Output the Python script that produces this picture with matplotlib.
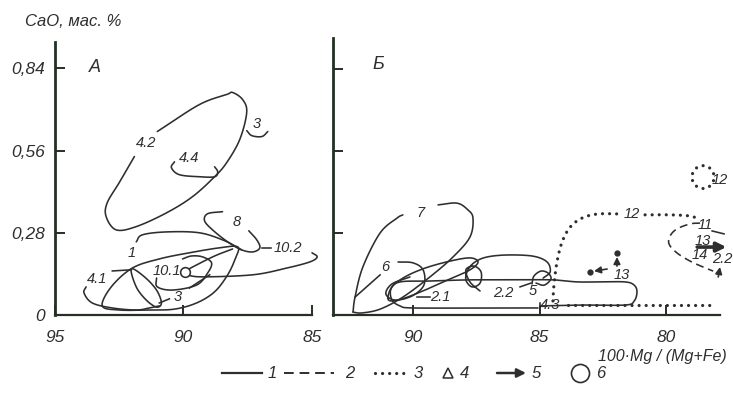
import numpy as np
import matplotlib.pyplot as plt
from matplotlib.patches import Ellipse

plt.rcParams['font.family'] = ['Liberation Sans Narrow', 'Liberation Sans', 'DejaVu Sans']
plt.rcParams['font.style'] = 'italic'

INK = '#2e2e2e'
AXIS = '#233023'
LW = 1.15

# ---- panel A contours (x = 100*Mg/(Mg+Fe), y = CaO, wt.%) ----
a42_x = [91.02, 89.38, 88.32, 88.09, 87.70, 87.54, 87.81, 88.32, 88.79, 89.65, 90.66, 91.84, 92.62, 93.01, 92.97, 92.50, 91.91]
a42_y = [0.625, 0.717, 0.751, 0.758, 0.734, 0.690, 0.598, 0.519, 0.471, 0.403, 0.348, 0.301, 0.290, 0.335, 0.382, 0.451, 0.540]
a3_x = [87.54, 87.34, 86.95, 86.72]
a3_y = [0.628, 0.611, 0.608, 0.625]
a44_x = [90.35, 90.47, 90.16, 89.38, 88.79, 88.67, 88.79]
a44_y = [0.522, 0.502, 0.478, 0.471, 0.471, 0.488, 0.505]
a8_x = [88.48, 89.06, 89.18, 88.87, 88.28, 87.74, 87.30, 87.03, 87.15, 87.46]
a8_y = [0.352, 0.345, 0.321, 0.290, 0.249, 0.222, 0.215, 0.229, 0.256, 0.287]
a1top_x = [91.84, 91.60, 90.66, 89.38, 88.40, 87.74]
a1top_y = [0.249, 0.273, 0.283, 0.280, 0.253, 0.222]
a102u_x = [88.09, 88.79, 89.57, 89.92]
a102u_y = [0.225, 0.201, 0.167, 0.150]
a102l_x = [89.92, 89.26, 87.30, 85.98, 85.08, 84.80, 85.00]
a102l_y = [0.137, 0.130, 0.137, 0.160, 0.181, 0.198, 0.212]
a101_x = [91.05, 91.02, 90.43, 89.49, 89.06, 88.91, 89.26, 89.69, 90.04]
a101_y = [0.126, 0.096, 0.085, 0.102, 0.143, 0.178, 0.198, 0.201, 0.191]
a1_x = [93.16, 92.81, 91.99, 90.94, 89.77, 88.59, 87.89, 87.97, 88.28, 88.79, 89.49, 90.35, 91.33, 92.50]
a1_y = [0.031, 0.096, 0.160, 0.191, 0.212, 0.229, 0.232, 0.195, 0.137, 0.079, 0.041, 0.020, 0.017, 0.017]
a41_x = [93.79, 93.87, 93.55, 92.77, 91.84, 91.33, 90.94]
a41_y = [0.096, 0.075, 0.041, 0.024, 0.017, 0.024, 0.031]
aloop_x = [92.03, 91.84, 91.45, 91.05, 90.86, 91.05, 91.52]
aloop_y = [0.157, 0.096, 0.051, 0.027, 0.041, 0.085, 0.130]
a_circle = (89.96, 0.147)

a_leaders = [([92.77, 92.03], [0.150, 0.154]),
             ([90.94, 90.55], [0.041, 0.055]),
             ([89.77, 88.98], [0.092, 0.137]),
             ([86.95, 86.60], [0.229, 0.229])]
a_labels = [('4.2', 91.45, 0.587), ('3', 87.15, 0.652), ('4.4', 89.77, 0.536),
            ('8', 87.93, 0.318), ('1', 92.03, 0.212), ('4.1', 93.36, 0.123),
            ('10.1', 90.66, 0.150), ('3', 90.23, 0.061)]

# ---- panel Б contours ----
b7l_x = [90.40, 90.63, 91.30, 91.98, 92.29, 92.37]
b7l_y = [0.342, 0.331, 0.280, 0.164, 0.061, 0.010]
b7r_x = [89.01, 88.26, 87.83, 87.63, 87.75, 88.42, 89.33, 90.40, 91.30, 92.02, 92.37]
b7r_y = [0.376, 0.382, 0.359, 0.331, 0.266, 0.198, 0.130, 0.061, 0.020, 0.007, 0.010]
b6_x = [90.59, 90.00, 89.60, 89.57, 90.04, 90.71, 91.07, 90.83, 90.12]
b6_y = [0.181, 0.178, 0.154, 0.102, 0.065, 0.051, 0.072, 0.106, 0.130]
b21_x = [90.99, 90.83, 90.32, 89.53, 88.54, 87.75, 87.43, 87.75, 88.54, 89.53, 90.32, 90.83]
b21_y = [0.058, 0.096, 0.130, 0.160, 0.184, 0.195, 0.181, 0.154, 0.123, 0.085, 0.058, 0.048]
b22_x = [84.86, 84.58, 84.70, 85.26, 86.28, 87.08, 87.55, 87.83, 87.91, 87.67, 87.35, 87.31, 87.59, 87.91, 87.75, 87.35]
b22_y = [0.126, 0.147, 0.181, 0.201, 0.205, 0.198, 0.181, 0.154, 0.120, 0.096, 0.109, 0.147, 0.167, 0.154, 0.113, 0.082]
b5_x = [85.30, 85.22, 84.94, 84.66, 84.55, 84.82, 85.14]
b5_y = [0.106, 0.133, 0.150, 0.143, 0.123, 0.102, 0.109]
b43_x = [84.98, 83.40, 81.62, 81.26, 81.15, 81.26, 81.62, 82.61, 83.52, 84.47, 85.77, 87.75, 89.33, 90.51, 90.87, 90.83, 90.51, 90.00, 87.35, 85.06]
b43_y = [0.031, 0.034, 0.034, 0.048, 0.079, 0.102, 0.113, 0.113, 0.113, 0.120, 0.120, 0.120, 0.116, 0.113, 0.089, 0.051, 0.031, 0.024, 0.024, 0.024]
# dotted contour 12
b12a_x = [84.47, 84.43, 84.31, 84.11, 83.79, 83.32, 82.69, 81.74]
b12a_y = [0.048, 0.102, 0.181, 0.249, 0.300, 0.331, 0.345, 0.345]
b12b_x = [80.83, 79.84, 79.05, 78.74]
b12b_y = [0.342, 0.342, 0.338, 0.328]
b12c_x = [83.87, 78.06]
b12c_y = [0.034, 0.034]
b12_ring = (78.54, 0.471, 0.87, 0.078)
# dashed contour 11
b11_x = [78.66, 79.05, 79.57, 79.84, 79.88, 79.57, 79.05, 78.54, 78.14]
b11_y = [0.314, 0.311, 0.294, 0.270, 0.242, 0.212, 0.184, 0.164, 0.150]
b11d_x = [78.18, 77.71]
b11d_y = [0.287, 0.277]

b_leaders = [([91.30, 92.29], [0.137, 0.061]),
             ([89.84, 89.33], [0.061, 0.061]),
             ([85.77, 85.34], [0.096, 0.109]),
             ([84.98, 84.98], [0.017, 0.041])]
b_points = [(83.00, 0.147), (81.94, 0.212)]
b_arrows = [((82.33, 0.157), (82.85, 0.150)),
            ((81.94, 0.167), (81.94, 0.198)),
            ((77.94, 0.130), (77.87, 0.164))]
b_big_arrow = ((78.77, 0.232), (77.62, 0.232))
b_labels = [('7', 89.72, 0.348), ('6', 91.11, 0.164), ('2.1', 88.93, 0.061),
            ('2.2', 86.44, 0.075), ('5', 85.26, 0.082), ('4.3', 84.58, 0.034),
            ('12', 81.34, 0.345), ('13', 81.74, 0.137), ('12', 77.87, 0.461),
            ('11', 78.46, 0.307), ('13', 78.54, 0.253), ('14', 78.66, 0.205),
            ('2.2', 77.79, 0.191)]


def smooth(xs, ys, closed=False, n=14):
    # Catmull-Rom through the traced points
    p = np.column_stack([xs, ys]).astype(float)
    if closed:
        p = np.vstack([p[-1], p, p[0], p[1]])
    else:
        p = np.vstack([2 * p[0] - p[1], p, 2 * p[-1] - p[-2]])
    t = np.linspace(0, 1, n, endpoint=False)[:, None]
    out = []
    for i in range(1, len(p) - 2):
        p0, p1, p2, p3 = p[i - 1], p[i], p[i + 1], p[i + 2]
        out.append(0.5 * (2 * p1 + (p2 - p0) * t
                          + (2 * p0 - 5 * p1 + 4 * p2 - p3) * t ** 2
                          + (3 * p1 - p0 - 3 * p2 + p3) * t ** 3))
    out.append(p[-2][None])
    out = np.vstack(out)
    return out[:, 0], out[:, 1]


def contour(ax, xs, ys, closed=False, **kw):
    sx, sy = smooth(xs, ys, closed)
    style = dict(color=INK, lw=LW, clip_on=False, solid_capstyle='round')
    style.update(kw)
    ax.plot(sx, sy, **style)


def dotted(ax, xs, ys, curved=True):
    if curved:
        xs, ys = smooth(xs, ys)
    ax.plot(xs, ys, color=INK, lw=2.3, ls=(0, (0.01, 2.2)),
            dash_capstyle='round', clip_on=False)


def arrow(ax, start, end, lw=1.2, scale=10):
    ax.annotate('', xy=end, xytext=start, annotation_clip=False,
                arrowprops=dict(arrowstyle='-|>', color=INK, lw=lw,
                                mutation_scale=scale, shrinkA=0, shrinkB=0))


def labels(ax, items, size=10.5):
    for s, x, y in items:
        ax.text(x, y, s, fontsize=size, color=INK, ha='center', va='center')


def frame(ax):
    for side in ('top', 'right'):
        ax.spines[side].set_visible(False)
    ax.spines['left'].set_linewidth(2.0)
    ax.spines['bottom'].set_linewidth(1.6)
    for side in ('left', 'bottom'):
        ax.spines[side].set_color(AXIS)
    ax.tick_params(direction='in', length=7, width=1.4, color=AXIS,
                   labelsize=12.5, labelcolor=INK, pad=7)
    ax.tick_params(axis='x', pad=11)
    ax.patch.set_alpha(0)


fig = plt.figure(figsize=(7.33, 4.04), dpi=100)
axA = fig.add_axes([55 / 733, 1 - 315 / 404, 257 / 733, 273 / 404])
axB = fig.add_axes([333 / 733, 1 - 315 / 404, 387 / 733, 277 / 404])

# panel A
axA.set_xlim(95, 85)
axA.set_ylim(0, 0.93)
axA.set_xticks([95, 90, 85], ['95', '90', '85'])
axA.set_yticks([0, 0.28, 0.56, 0.84], ['0', '0,28', '0,56', '0,84'])
frame(axA)

contour(axA, a42_x, a42_y)
contour(axA, a3_x, a3_y)
contour(axA, a44_x, a44_y)
contour(axA, a8_x, a8_y)
contour(axA, a1top_x, a1top_y)
contour(axA, a102u_x, a102u_y)
contour(axA, a102l_x, a102l_y)
contour(axA, a101_x, a101_y)
contour(axA, a1_x, a1_y, closed=True)
contour(axA, a41_x, a41_y)
contour(axA, aloop_x, aloop_y, closed=True)
axA.plot(*a_circle, 'o', ms=7, mfc='white', mec=INK, mew=LW, clip_on=False)
for xs, ys in a_leaders:
    axA.plot(xs, ys, color=INK, lw=LW)
labels(axA, a_labels)
axA.text(86.5, 0.229, '10.2', fontsize=10.5, color=INK, ha='left', va='center')
axA.text(0.156, 0.905, 'A', transform=axA.transAxes, fontsize=13,
         color=INK, ha='center', va='center')

# panel Б
axB.set_xlim(93.16, 77.87)
axB.set_ylim(0, 0.946)
axB.set_xticks([90, 85, 80], ['90', '85', '80'])
axB.set_yticks([0.28, 0.56, 0.84], [])
frame(axB)

contour(axB, b7l_x, b7l_y)
contour(axB, b7r_x, b7r_y)
contour(axB, b6_x, b6_y)
contour(axB, b21_x, b21_y, closed=True)
contour(axB, b22_x, b22_y)
contour(axB, b5_x, b5_y)
contour(axB, b43_x, b43_y)
for xs, ys in b_leaders:
    axB.plot(xs, ys, color=INK, lw=LW)
dotted(axB, b12a_x, b12a_y)
dotted(axB, b12b_x, b12b_y)
dotted(axB, b12c_x, b12c_y, curved=False)
cx, cy, w, h = b12_ring
axB.add_patch(Ellipse((cx, cy), w, h, fill=False, ec=INK, lw=2.3,
                      ls=(0, (0.01, 2.2)), capstyle='round'))
contour(axB, b11_x, b11_y, ls=(0, (5, 3)))
axB.plot(b11d_x, b11d_y, color=INK, lw=LW, clip_on=False)
for px, py in b_points:
    axB.plot(px, py, 'o', ms=3.5, color=INK)
for s, e in b_arrows:
    arrow(axB, s, e)
arrow(axB, *b_big_arrow, lw=2.6, scale=14)
labels(axB, b_labels)
axB.text(0.116, 0.903, 'Б', transform=axB.transAxes, fontsize=13,
         color=INK, ha='center', va='center')

fig.text(25 / 733, 1 - 22 / 404, 'CaO, мас. %', fontsize=12, color=INK,
         ha='left', va='center')
fig.text(727 / 733, 1 - 356 / 404, '100·Mg / (Mg+Fe)', fontsize=11.5,
         color=INK, ha='right', va='center')

# legend strip along the bottom
lg = fig.add_axes([0, 0, 1, 1])
lg.set_xlim(0, 733)
lg.set_ylim(404, 0)
lg.axis('off')
ly = 373
lg.plot([222, 262], [ly, ly], color=INK, lw=1.6)
lg.plot([284, 334], [ly, ly], color=INK, lw=1.4, ls=(0, (5, 3)))
lg.plot([375, 405], [ly, ly], color=INK, lw=2.3, ls=(0, (0.01, 2.2)),
        dash_capstyle='round')
lg.plot(448, ly, '^', ms=7, mfc='none', mec=INK, mew=1.1)
lg.annotate('', xy=(526, ly), xytext=(497, ly),
            arrowprops=dict(arrowstyle='-|>', color=INK, lw=1.8,
                            mutation_scale=13, shrinkA=0, shrinkB=0))
lg.plot(580, ly, 'o', ms=13, mfc='none', mec=INK, mew=1.2)
for s, x in [('1', 272), ('2', 350), ('3', 418), ('4', 465), ('5', 536), ('6', 601)]:
    lg.text(x, ly, s, fontsize=12, color=INK, ha='center', va='center')

fig.savefig('out.png', dpi=100, facecolor='white')
